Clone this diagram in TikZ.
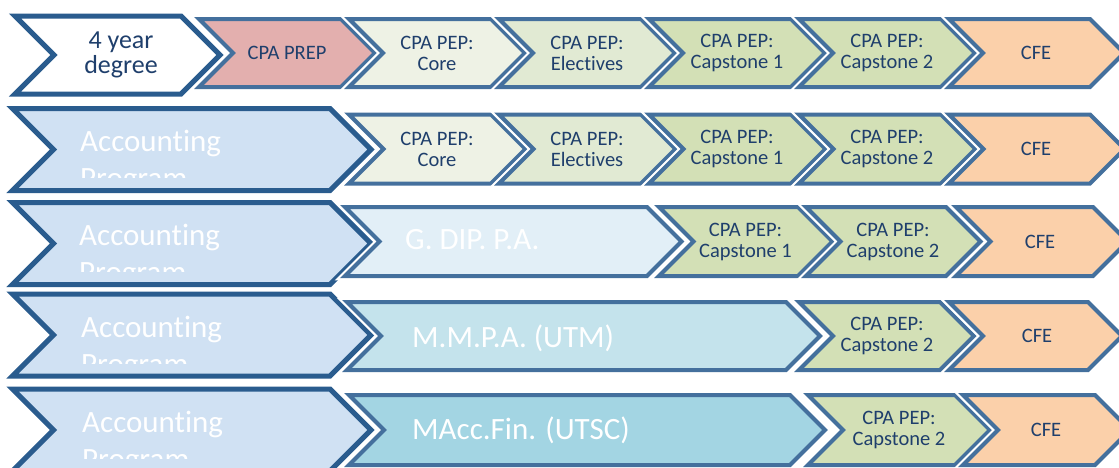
\documentclass[tikz,border=0pt]{standalone}
\usepackage{fontspec}
\setmainfont{Carlito}[Ligatures=NoCommon]
\usepackage{tikz}

\definecolor{edgedark}{HTML}{2A5C8E}
\definecolor{edgeblue}{HTML}{44709D}
\definecolor{labelblue}{HTML}{1F3F6C}
\definecolor{accfill}{HTML}{D0E1F3}
\definecolor{prepfill}{HTML}{E3AFAE}
\definecolor{corefill}{HTML}{EEF2E5}
\definecolor{elecfill}{HTML}{E1EAD3}
\definecolor{capfill}{HTML}{D3E0B6}
\definecolor{cfefill}{HTML}{FBD0AA}
\definecolor{gdipfill}{HTML}{E2EFF7}
\definecolor{mmpafill}{HTML}{C4E3EC}
\definecolor{maccfill}{HTML}{A3D5E3}

\tikzset{
  halo/.style={draw=white, line width=8.5pt},
  chevdark/.style={draw=edgedark, line width=5pt},
  chevedge/.style={draw=edgeblue, line width=4pt},
  lbl/.style={text=labelblue, align=center, font=\fontsize{20.5}{21}\selectfont},
  biglbl/.style={text=white, anchor=base west, align=left, inner sep=0pt, font=\fontsize{31}{37}\selectfont}
}

% chevron: [style]{left}{right corner}{mid y}{half height}
\newcommand{\chev}[5][chevedge]{%
  \draw[halo] (#2,#4-#5) -- (#3,#4-#5) -- (#3+#5,#4) -- (#3,#4+#5) -- (#2,#4+#5) -- (#2+#5,#4) -- cycle;
  \filldraw[#1] (#2,#4-#5) -- (#3,#4-#5) -- (#3+#5,#4) -- (#3,#4+#5) -- (#2,#4+#5) -- (#2+#5,#4) -- cycle;
}

\begin{document}
\begin{tikzpicture}[x=1pt,y=-1pt]
  \useasboundingbox (0,0) rectangle (1119,467);
  \clip (0,0) rectangle (1119,467);

  % row 1: 4 year degree
  \chev[chevdark, fill=white]{15}{181}{55}{39}
  \chev[chevedge, fill=prepfill]{199}{341}{53}{34}
  \chev[chevedge, fill=corefill]{349}{491}{53}{34}
  \chev[chevedge, fill=elecfill]{499}{641}{53}{34}
  \chev[chevedge, fill=capfill]{649}{791}{53}{34}
  \chev[chevedge, fill=capfill]{799}{941}{53}{34}
  \chev[chevedge, fill=cfefill]{949}{1090}{53}{34}
  \node[lbl, font=\fontsize{26}{25}\selectfont] (degree) at (121,55) {4 year\\degree};
  \node[lbl] (prep) at (287,53) {CPA PREP};
  \node[lbl] (core1) at (437,53) {CPA PEP:\\Core};
  \node[lbl] (elec1) at (587,53) {CPA PEP:\\Electives};
  \node[lbl] (capa1) at (737,53) {CPA PEP:\\Capstone 1};
  \node[lbl] (capb1) at (887,53) {CPA PEP:\\Capstone 2};
  \node[lbl] (cfe1) at (1036,53) {CFE};

  % row 2: accounting program, full PEP
  \chev[chevdark, fill=accfill]{12.5}{330}{149.5}{41}
  \chev[chevedge, fill=corefill]{349}{491}{149}{34.5}
  \chev[chevedge, fill=elecfill]{499}{641}{149}{34.5}
  \chev[chevedge, fill=capfill]{649}{791}{149}{34.5}
  \chev[chevedge, fill=capfill]{799}{941}{149}{34.5}
  \chev[chevedge, fill=cfefill]{949}{1090}{149}{34.5}
  \begin{scope}
    \clip (0,100) rectangle (340,177.5);
    \node[biglbl] (acc2) at (80,188.5) {Accounting\\Program};
  \end{scope}
  \node[lbl] (core2) at (437,149) {CPA PEP:\\Core};
  \node[lbl] (elec2) at (587,149) {CPA PEP:\\Electives};
  \node[lbl] (capa2) at (737,149) {CPA PEP:\\Capstone 1};
  \node[lbl] (capb2) at (887,149) {CPA PEP:\\Capstone 2};
  \node[lbl] (cfe2) at (1036,149) {CFE};

  % row 3: G. DIP. P.A.
  \chev[chevdark, fill=accfill]{12.5}{330}{243.5}{41}
  \chev[chevedge, fill=gdipfill]{345}{647}{241.5}{34.5}
  \chev[chevedge, fill=capfill]{659}{798}{241.5}{34.5}
  \chev[chevedge, fill=capfill]{806}{946}{241.5}{34.5}
  \chev[chevedge, fill=cfefill]{956}{1093}{241.5}{34.5}
  \begin{scope}
    \clip (0,195) rectangle (340,271.5);
    \node[biglbl] (acc3) at (79,282.5) {Accounting\\Program};
  \end{scope}
  \node[biglbl] (gdip) at (405,249) {G. DIP. P.A.};
  \node[lbl] (capa3) at (745.5,241.5) {CPA PEP:\\Capstone 1};
  \node[lbl] (capb3) at (893,241.5) {CPA PEP:\\Capstone 2};
  \node[lbl] (cfe3) at (1040,241.5) {CFE};

  % row 4: M.M.P.A. (UTM)
  \chev[chevdark, fill=accfill]{12.5}{330}{335}{41}
  \chev[chevedge, fill=mmpafill]{347}{786}{336}{34}
  \chev[chevedge, fill=capfill]{799}{940}{336}{34}
  \chev[chevedge, fill=cfefill]{949}{1088}{336}{34}
  \begin{scope}
    \clip (0,290) rectangle (340,363);
    \node[biglbl] (acc4) at (81,374) {Accounting\\Program};
  \end{scope}
  \node[biglbl] (mmpa) at (412,347) {M.M.P.A. (UTM)};
  \node[lbl] (capb4) at (887,336) {CPA PEP:\\Capstone 2};
  \node[lbl] (cfe4) at (1037,336) {CFE};

  % row 5: MAcc.Fin. (UTSC)
  \chev[chevdark, fill=accfill]{12.5}{330}{430}{41}
  \chev[chevedge, fill=maccfill]{349}{790}{430}{35}
  \chev[chevedge, fill=capfill]{808}{955}{430}{35}
  \chev[chevedge, fill=cfefill]{963}{1095}{430}{35}
  \begin{scope}
    \clip (0,385) rectangle (340,458);
    \node[biglbl] (acc5) at (82,469) {Accounting\\Program};
  \end{scope}
  \node[biglbl] (macc) at (412,439) {MAcc.Fin. (UTSC)};
  \node[lbl] (capb5) at (899,430) {CPA PEP:\\Capstone 2};
  \node[lbl] (cfe5) at (1046,430) {CFE};
\end{tikzpicture}
\end{document}
